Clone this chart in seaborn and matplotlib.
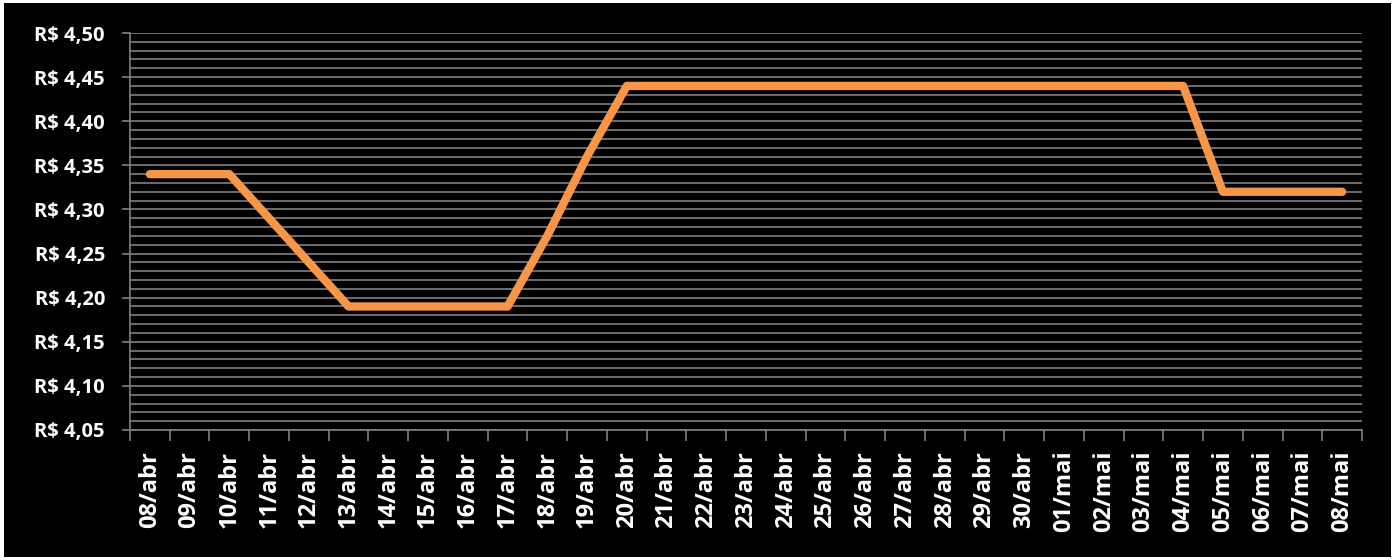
import matplotlib
matplotlib.use("Agg")
import matplotlib.pyplot as plt
from matplotlib.patches import Rectangle
from matplotlib.ticker import MultipleLocator, FixedLocator, FuncFormatter
import seaborn as sns
import pandas as pd

dates = ["08/abr", "09/abr", "10/abr", "11/abr", "12/abr", "13/abr", "14/abr", "15/abr",
         "16/abr", "17/abr", "18/abr", "19/abr", "20/abr", "21/abr", "22/abr", "23/abr",
         "24/abr", "25/abr", "26/abr", "27/abr", "28/abr", "29/abr", "30/abr", "01/mai",
         "02/mai", "03/mai", "04/mai", "05/mai", "06/mai", "07/mai", "08/mai"]
prices = [4.34, 4.34, 4.34, 4.29, 4.24, 4.19, 4.19, 4.19,
          4.19, 4.19, 4.27, 4.36, 4.44, 4.44, 4.44, 4.44,
          4.44, 4.44, 4.44, 4.44, 4.44, 4.44, 4.44, 4.44,
          4.44, 4.44, 4.44, 4.32, 4.32, 4.32, 4.32]

df = pd.DataFrame({"data": dates, "preco": prices})

sns.set_style("dark")
plt.rcParams["font.family"] = ["Open Sans", "DejaVu Sans"]

W, H = 1397, 560
fig = plt.figure(figsize=(W / 100, H / 100), dpi=100, facecolor="white")
fig.patches.append(Rectangle((4 / W, 3 / H), 1387 / W, 554 / H,
                             transform=fig.transFigure, facecolor="black",
                             edgecolor="none", zorder=-10))
ax = fig.add_axes([130 / W, 1 - 430 / H, 1232 / W, 397 / H])
ax.set_facecolor("black")

grid_col = "#808080"
sns.lineplot(data=df, x="data", y="preco", ax=ax, sort=False,
             color="#F79646", linewidth=6, solid_capstyle="round",
             solid_joinstyle="round", zorder=3)

ax.set_xlim(-0.5, len(dates) - 0.5)
ax.set_ylim(4.05, 4.50)

# y axis: labels every 0.05, gridlines every 0.01
ax.yaxis.set_major_locator(MultipleLocator(0.05))
ax.yaxis.set_minor_locator(MultipleLocator(0.01))
ax.yaxis.set_major_formatter(FuncFormatter(lambda v, p: "R$ " + f"{v:.2f}".replace(".", ",")))
ax.grid(True, which="both", axis="y", color=grid_col, linewidth=1.2, zorder=1)
ax.grid(False, axis="x")
ax.tick_params(axis="y", which="major", length=6, width=1.2, color=grid_col,
               labelcolor="white", labelsize=14.5, pad=12, left=True)
ax.tick_params(axis="y", which="minor", length=0)

# x axis: labels centred on categories, tick marks on boundaries
ax.set_xticks(range(len(dates)))
ax.set_xticklabels(dates, rotation=90)
ax.xaxis.set_minor_locator(FixedLocator([i - 0.5 for i in range(len(dates) + 1)]))
ax.tick_params(axis="x", which="major", length=0, labelcolor="white",
               labelsize=17, pad=15)
ax.tick_params(axis="x", which="minor", length=8, width=1.2, color=grid_col,
               bottom=True)
for lab in ax.get_xticklabels() + ax.get_yticklabels():
    lab.set_fontweight("bold")

ax.set_xlabel("")
ax.set_ylabel("")
for side in ["top", "right"]:
    ax.spines[side].set_visible(False)
for side in ["left", "bottom"]:
    ax.spines[side].set_visible(True)
    ax.spines[side].set_color(grid_col)
    ax.spines[side].set_linewidth(1.2)

fig.savefig("out.png", dpi=100, facecolor=fig.get_facecolor())
